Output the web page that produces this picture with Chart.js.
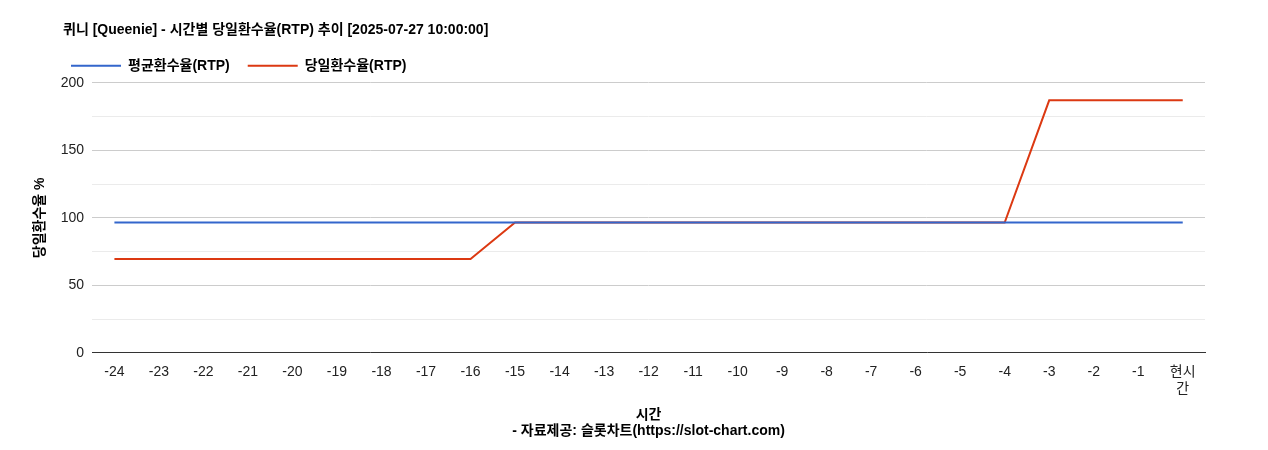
<!DOCTYPE html>
<html><head><meta charset="utf-8">
<script src="https://cdn.jsdelivr.net/npm/chart.js@4/dist/chart.umd.min.js"></script>
<style>body{margin:0;background:#fff}#w{width:1268px;height:450px}</style>
</head><body><div id="w"><canvas id="c"></canvas></div>
<script>
const categories = ['-24','-23','-22','-21','-20','-19','-18','-17','-16','-15','-14','-13','-12','-11','-10','-9','-8','-7','-6','-5','-4','-3','-2','-1',['현시','간']];
const avgRtp = [96.5,96.5,96.5,96.5,96.5,96.5,96.5,96.5,96.5,96.5,96.5,96.5,96.5,96.5,96.5,96.5,96.5,96.5,96.5,96.5,96.5,96.5,96.5,96.5,96.5];
const dailyRtp = [69.5,69.5,69.5,69.5,69.5,69.5,69.5,69.5,69.5,96.5,96.5,96.5,96.5,96.5,96.5,96.5,96.5,96.5,96.5,96.5,96.5,187,187,187,187];
const F = "'Liberation Sans', Arial, 'Noto Sans CJK KR', sans-serif";
Chart.defaults.font.family = F;
Chart.defaults.color = '#222';
const shiftPlugin = { id: 'shift', afterLayout(chart) {
  chart.titleBlock.left = 63;
  chart.legend.left = 53;
}};
new Chart(document.getElementById('c'), {
  type: 'line',
  plugins: [shiftPlugin],
  data: { labels: categories, datasets: [
    { label: '평균환수율(RTP)', data: avgRtp, borderColor: '#3366cc', backgroundColor: '#3366cc', borderWidth: 2, pointRadius: 0, tension: 0 },
    { label: '당일환수율(RTP)', data: dailyRtp, borderColor: '#dc3912', backgroundColor: '#dc3912', borderWidth: 2, pointRadius: 0, tension: 0 }
  ]},
  options: {
    responsive: true, maintainAspectRatio: false, animation: false,
    layout: { padding: { left: 28, right: 63, top: 22, bottom: 6 } },
    plugins: {
      title: { display: true, text: '퀴니 [Queenie] - 시간별 당일환수율(RTP) 추이 [2025-07-27 10:00:00]', align: 'start', font: { size: 14, weight: 'bold' }, color: '#000', padding: { top: 0, bottom: 2 } },
      legend: { align: 'start', labels: { boxWidth: 50, boxHeight: 0, font: { size: 14, weight: 'bold' }, color: '#000', padding: 18 } },
      tooltip: { enabled: false }
    },
    scales: {
      x: { offset: true, grid: { display: false }, border: { color: '#333' },
        ticks: { maxRotation: 0, autoSkip: false, font: { size: 14 }, color: '#222' },
        title: { display: true, text: ['시간', '- 자료제공: 슬롯차트(https://slot-chart.com)'], font: { size: 14, weight: 'bold' }, color: '#000', padding: { top: 6 } } },
      y: { min: 0, max: 200, border: { display: false },
        ticks: { stepSize: 25, font: { size: 14 }, color: '#222', padding: 8, callback: v => v % 50 === 0 ? v : '' },
        grid: { color: c => c.tick.value % 50 === 0 ? '#ccc' : '#ebebeb', drawTicks: false },
        title: { display: true, text: '당일환수율 %', font: { size: 14, weight: 'bold' }, color: '#000' } }
    }
  }
});
</script></body></html>
